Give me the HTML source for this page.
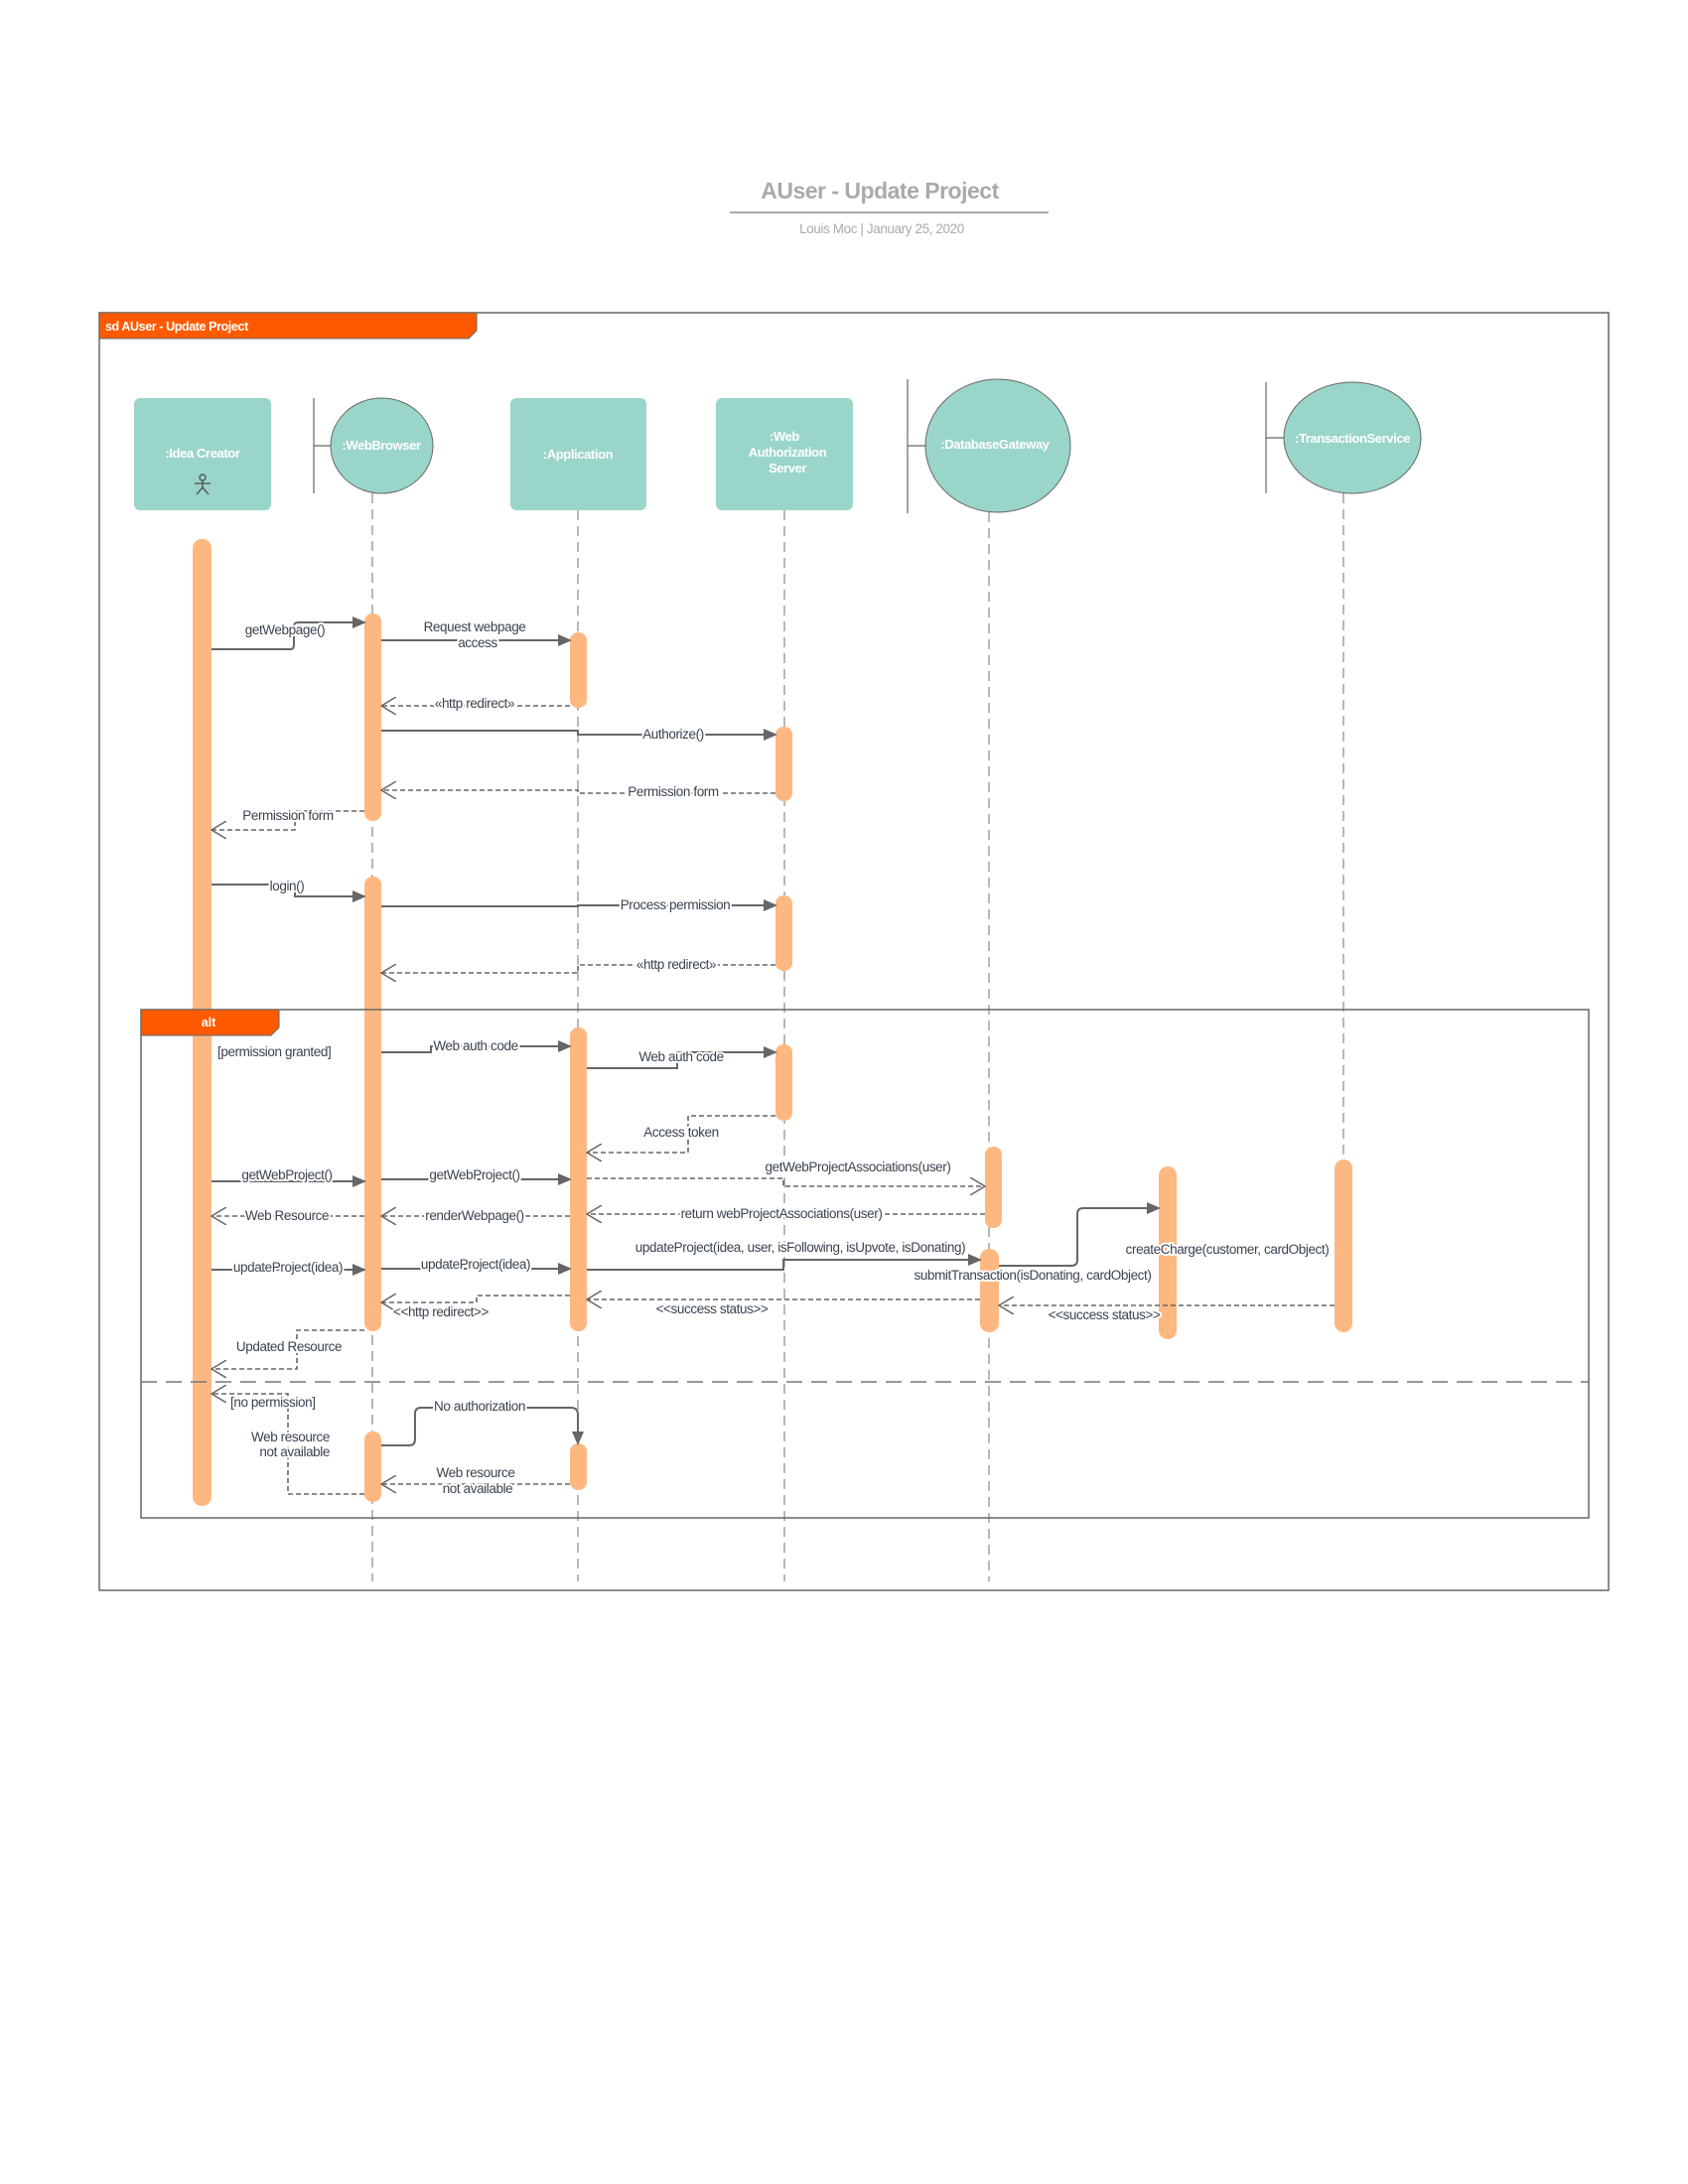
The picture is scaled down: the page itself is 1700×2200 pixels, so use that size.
<!DOCTYPE html>
<html><head><meta charset="utf-8"><title>AUser - Update Project</title>
<style>
html,body{margin:0;padding:0;background:#fff;}
svg{display:block;}
text{font-family:"Liberation Sans",sans-serif;}
.lbl{font-size:13.5px;fill:#3a4450;letter-spacing:-0.4px;paint-order:stroke;stroke:#fff;stroke-width:4px;stroke-linejoin:round;}
.hd{font-size:13px;fill:#fff;font-weight:bold;letter-spacing:-0.4px;}
.sol{fill:none;stroke:#666;stroke-width:2;}
.dsh{fill:none;stroke:#666;stroke-width:1.6;stroke-dasharray:5,3;}
.life{stroke:#888;stroke-width:1.2;stroke-dasharray:10,6;}
.act{fill:#fdb881;}
</style></head>
<body>
<svg width="1700" height="2200" viewBox="0 0 1700 2200">
<defs>
<marker id="fa" markerWidth="14" markerHeight="12" refX="12" refY="6" orient="auto" markerUnits="userSpaceOnUse"><path d="M0,0 L14,6 L0,12 z" fill="#666"/></marker>
<marker id="oa" markerWidth="16" markerHeight="18" refX="15" refY="9" orient="auto" markerUnits="userSpaceOnUse"><path d="M0,0 L15,9 L0,18" fill="none" stroke="#666" stroke-width="1.5"/></marker>
</defs>

<g>
<text x="886" y="200" text-anchor="middle" font-size="23" font-weight="bold" fill="#aaa" letter-spacing="-0.5">AUser - Update Project</text>
<line x1="735" y1="214" x2="1056" y2="214" stroke="#aaa" stroke-width="2"/>
<text x="888" y="235" text-anchor="middle" font-size="13.5" fill="#aaa" letter-spacing="-0.4">Louis Moc  |  January 25, 2020</text>
</g>

<g>
<rect x="100" y="315" width="1520" height="1287" fill="none" stroke="#666" stroke-width="1.5"/>
<polygon points="100,315 480,315 480,333 472,341 100,341" fill="#ff5a00" stroke="#666" stroke-width="1"/>
<text x="106" y="333" font-size="12.5" font-weight="bold" fill="#fff" letter-spacing="-0.4">sd AUser - Update Project</text>
</g>

<g>
<line class="life" x1="375" y1="497" x2="375" y2="1593"/>
<line class="life" x1="582" y1="514" x2="582" y2="1593"/>
<line class="life" x1="790" y1="514" x2="790" y2="1593"/>
<line class="life" x1="996" y1="516" x2="996" y2="1593"/>
<line class="life" x1="1353" y1="497" x2="1353" y2="1168"/>
</g>

<g>
<g>
<rect x="135" y="401" width="138" height="113" rx="6" fill="#9ad5ca"/>
<text class="hd" x="204" y="461" text-anchor="middle">:Idea Creator</text>
<g stroke="#555" stroke-width="1.4" fill="none"><circle cx="204" cy="481" r="3"/><line x1="204" y1="484" x2="204" y2="491"/><line x1="196" y1="487" x2="212" y2="487"/><line x1="204" y1="491" x2="198" y2="498"/><line x1="204" y1="491" x2="210" y2="498"/></g>
</g>
<g>
<line x1="316" y1="401" x2="316" y2="497" stroke="#666" stroke-width="1.2"/>
<line x1="316" y1="449" x2="333" y2="449" stroke="#666" stroke-width="1.2"/>
<ellipse cx="384.5" cy="449" rx="51.5" ry="48" fill="#9ad5ca" stroke="#666" stroke-width="1"/>
<text class="hd" x="384" y="453" text-anchor="middle" font-size="11">:WebBrowser</text>
</g>
<g>
<rect x="514" y="401" width="137" height="113" rx="6" fill="#9ad5ca"/>
<text class="hd" x="582" y="462" text-anchor="middle">:Application</text>
</g>
<g>
<rect x="721" y="401" width="138" height="113" rx="6" fill="#9ad5ca"/>
<text class="hd" x="790" y="444" text-anchor="middle">:Web</text>
<text class="hd" x="793" y="460" text-anchor="middle">Authorization</text>
<text class="hd" x="793" y="476" text-anchor="middle">Server</text>
</g>
<g>
<line x1="914" y1="382" x2="914" y2="517" stroke="#666" stroke-width="1.2"/>
<line x1="914" y1="449" x2="932" y2="449" stroke="#666" stroke-width="1.2"/>
<ellipse cx="1005" cy="449" rx="73" ry="67" fill="#9ad5ca" stroke="#666" stroke-width="1"/>
<text class="hd" x="1002" y="452" text-anchor="middle">:DatabaseGateway</text>
</g>
<g>
<line x1="1275" y1="385" x2="1275" y2="497" stroke="#666" stroke-width="1.2"/>
<line x1="1275" y1="441" x2="1293" y2="441" stroke="#666" stroke-width="1.2"/>
<ellipse cx="1362" cy="441" rx="69" ry="56" fill="#9ad5ca" stroke="#666" stroke-width="1"/>
<text class="hd" x="1362" y="446" text-anchor="middle">:TransactionService</text>
</g>
</g>

<g>
<rect class="act" x="194" y="543" width="19" height="974" rx="9"/>
<rect class="act" x="367" y="618" width="17" height="209" rx="8"/>
<rect class="act" x="367" y="883" width="17" height="458" rx="8"/>
<rect class="act" x="367" y="1442" width="17" height="71" rx="8"/>
<rect class="act" x="574" y="637" width="17" height="76" rx="8"/>
<rect class="act" x="574" y="1035" width="17" height="306" rx="8"/>
<rect class="act" x="574" y="1454" width="17" height="47" rx="8"/>
<rect class="act" x="781" y="732" width="17" height="75" rx="8"/>
<rect class="act" x="781" y="902" width="17" height="76" rx="8"/>
<rect class="act" x="781" y="1052" width="17" height="77" rx="8"/>
<rect class="act" x="992" y="1155" width="17" height="82" rx="8"/>
<rect class="act" x="987" y="1258" width="19" height="84" rx="9"/>
<rect class="act" x="1167" y="1175" width="18" height="174" rx="9"/>
<rect class="act" x="1344" y="1168" width="18" height="174" rx="9"/>
</g>

<g>
<rect x="142" y="1017" width="1458" height="512" fill="none" stroke="#666" stroke-width="1.5"/>
<polygon points="142,1017 281,1017 281,1035 273,1043 142,1043" fill="#ff5a00" stroke="#666" stroke-width="1"/>
<text x="210" y="1034" text-anchor="middle" font-size="12.5" font-weight="bold" fill="#fff">alt</text>
<line x1="142" y1="1392" x2="1600" y2="1392" stroke="#777" stroke-width="1.4" stroke-dasharray="16,9"/>
<text class="lbl" x="219" y="1064">[permission granted]</text>
</g>

<g>
<path class="sol" marker-end="url(#fa)" d="M213,654 H292 Q296,654 296,650 V631 Q296,627 300,627 H367"/>
<text class="lbl" x="287" y="639" text-anchor="middle">getWebpage()</text>
<path class="sol" marker-end="url(#fa)" d="M384,645 H574"/>
<text class="lbl" x="478" y="636" text-anchor="middle">Request webpage</text>
<text class="lbl" x="481" y="652" text-anchor="middle">access</text>
<path class="dsh" marker-end="url(#oa)" d="M574,711 H384"/>
<text class="lbl" x="478" y="713" text-anchor="middle">«http redirect»</text>
<path class="sol" marker-end="url(#fa)" d="M384,736 H582 V740 H781"/>
<text class="lbl" x="678" y="744" text-anchor="middle">Authorize()</text>
<path class="dsh" marker-end="url(#oa)" d="M781,799 H582 V796 H384"/>
<text class="lbl" x="678" y="802" text-anchor="middle">Permission form</text>
<path class="dsh" marker-end="url(#oa)" d="M367,817 H297 V836 H213"/>
<text class="lbl" x="290" y="826" text-anchor="middle">Permission form</text>
<path class="sol" marker-end="url(#fa)" d="M213,891 H297 V903 H367"/>
<text class="lbl" x="289" y="897" text-anchor="middle">login()</text>
<path class="sol" marker-end="url(#fa)" d="M384,913 H582 V912 H781"/>
<text class="lbl" x="680" y="916" text-anchor="middle">Process permission</text>
<path class="dsh" marker-end="url(#oa)" d="M781,972 H582 V980 H384"/>
<text class="lbl" x="681" y="976" text-anchor="middle">«http redirect»</text>

<path class="sol" marker-end="url(#fa)" d="M384,1060 H434 V1054 H574"/>
<text class="lbl" x="479" y="1058" text-anchor="middle">Web auth code</text>
<path class="sol" marker-end="url(#fa)" d="M591,1076 H682 V1060 H781"/>
<text class="lbl" x="686" y="1069" text-anchor="middle">Web auth code</text>
<path class="dsh" marker-end="url(#oa)" d="M781,1124 H693 V1161 H591"/>
<text class="lbl" x="686" y="1145" text-anchor="middle">Access token</text>
<path class="sol" marker-end="url(#fa)" d="M213,1190 H367"/>
<text class="lbl" x="289" y="1188" text-anchor="middle">getWebProject()</text>
<path class="sol" marker-end="url(#fa)" d="M384,1188 H574"/>
<text class="lbl" x="478" y="1188" text-anchor="middle">getWebProject()</text>
<path class="dsh" marker-end="url(#oa)" d="M591,1187 H789 V1195 H992"/>
<text class="lbl" x="864" y="1180" text-anchor="middle">getWebProjectAssociations(user)</text>
<path class="dsh" marker-end="url(#oa)" d="M367,1225 H213"/>
<text class="lbl" x="289" y="1229" text-anchor="middle">Web Resource</text>
<path class="dsh" marker-end="url(#oa)" d="M574,1225 H384"/>
<text class="lbl" x="478" y="1229" text-anchor="middle">renderWebpage()</text>
<path class="dsh" marker-end="url(#oa)" d="M992,1223 H591"/>
<text class="lbl" x="787" y="1227" text-anchor="middle">return webProjectAssociations(user)</text>
<path class="sol" marker-end="url(#fa)" d="M213,1279 H367"/>
<text class="lbl" x="290" y="1281" text-anchor="middle">updateProject(idea)</text>
<path class="sol" marker-end="url(#fa)" d="M384,1278 H574"/>
<text class="lbl" x="479" y="1278" text-anchor="middle">updateProject(idea)</text>
<path class="sol" marker-end="url(#fa)" d="M591,1279 H789 V1269 H987"/>
<text class="lbl" x="806" y="1261" text-anchor="middle">updateProject(idea, user, isFollowing, isUpvote, isDonating)</text>
<path class="sol" marker-end="url(#fa)" d="M1006,1275 H1079 Q1085,1275 1085,1269 V1223 Q1085,1217 1091,1217 H1167"/>
<text class="lbl" x="1040" y="1289" text-anchor="middle">submitTransaction(isDonating, cardObject)</text>
<text class="lbl" x="1236" y="1263" text-anchor="middle">createCharge(customer, cardObject)</text>
<path class="dsh" marker-end="url(#oa)" d="M1344,1315 H1006"/>
<text class="lbl" x="1112" y="1329" text-anchor="middle">&lt;&lt;success status&gt;&gt;</text>
<path class="dsh" marker-end="url(#oa)" d="M987,1309 H591"/>
<text class="lbl" x="717" y="1323" text-anchor="middle">&lt;&lt;success status&gt;&gt;</text>
<path class="dsh" marker-end="url(#oa)" d="M574,1305 H480 V1312 H384"/>
<text class="lbl" x="444" y="1326" text-anchor="middle">&lt;&lt;http redirect&gt;&gt;</text>
<path class="dsh" marker-end="url(#oa)" d="M367,1340 H299 V1379 H213"/>
<text class="lbl" x="291" y="1361" text-anchor="middle">Updated Resource</text>

<path class="dsh" marker-end="url(#oa)" d="M367,1505 H290 V1404 H213"/>
<text class="lbl" x="232" y="1417">[no permission]</text>
<text class="lbl" x="332" y="1452" text-anchor="end">Web resource</text>
<text class="lbl" x="332" y="1467" text-anchor="end">not available</text>
<path class="sol" marker-end="url(#fa)" d="M384,1456 H412 Q418,1456 418,1450 V1424 Q418,1418 424,1418 H575 Q582,1418 582,1425 V1454"/>
<text class="lbl" x="483" y="1421" text-anchor="middle">No authorization</text>
<path class="dsh" marker-end="url(#oa)" d="M574,1495 H384"/>
<text class="lbl" x="479" y="1488" text-anchor="middle">Web resource</text>
<text class="lbl" x="481" y="1504" text-anchor="middle">not available</text>
</g>
</svg>
</body></html>
